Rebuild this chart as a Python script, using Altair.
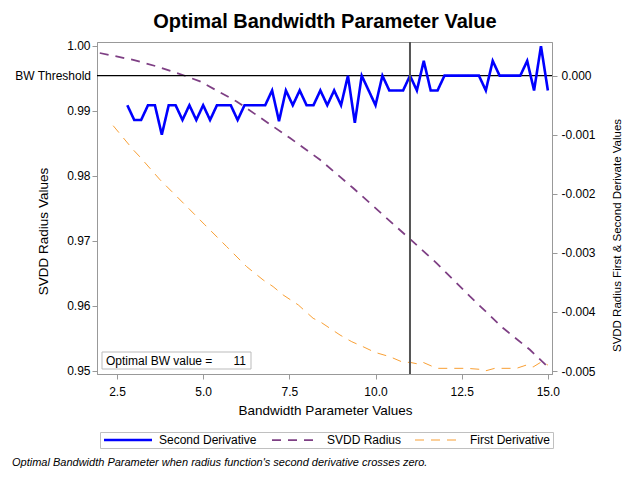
import altair as alt
import pandas as pd

FONT = "Liberation Sans"

# ---- data ----
series_names = ["Second Derivative", "SVDD Radius", "First Derivative"]
series_colors = ["#0000FF", "#7E3F84", "#F7941D"]

# Second derivative (right axis)
sd_x = [2.8, 3.0, 3.2, 3.4, 3.6, 3.8,
        4.0, 4.2, 4.4, 4.6, 4.8, 5.0,
        5.2, 5.4, 5.6, 5.8, 6.0, 6.2,
        6.4, 6.6, 6.8, 7.0, 7.2, 7.4,
        7.6, 7.8, 8.0, 8.2, 8.4, 8.6,
        8.8, 9.0, 9.2, 9.4, 9.6, 9.8,
        10.0, 10.2, 10.4, 10.6, 10.8, 11.0,
        11.2, 11.4, 11.6, 11.8, 12.0, 12.2,
        12.4, 12.6, 12.8, 13.0, 13.2, 13.4,
        13.6, 13.8, 14.0, 14.2, 14.4, 14.6,
        14.8, 15.0]
sd_y = [-0.0005, -0.00075, -0.00075, -0.0005, -0.0005, -0.001,
        -0.0005, -0.0005, -0.00075, -0.0005, -0.00075, -0.0005,
        -0.00075, -0.0005, -0.0005, -0.0005, -0.00075, -0.0005,
        -0.0005, -0.0005, -0.0005, -0.00025, -0.00077, -0.00025,
        -0.0005, -0.00025, -0.0005, -0.0005, -0.00025, -0.0005,
        -0.00025, -0.0005, 0.0, -0.0008, 0.0, -0.00025,
        -0.0005, 0.0, -0.00025, -0.00025, -0.00025, 0.0,
        -0.00025, 0.00025, -0.00025, -0.00025, 0.0, 0.0,
        0.0, 0.0, 0.0, 0.0, -0.00025, 0.00025,
        0.0, 0.0, 0.0, 0.0, 0.00025, -0.00025,
        0.0005, -0.00025]

# First derivative (right axis)
fd_x = [2.39, 2.97, 3.17, 3.75, 4.09, 4.62, 5.05, 5.68, 6.26, 6.74, 7.03, 7.32,
        7.76, 8.19, 8.39, 8.97, 9.31, 9.64, 9.98, 10.42, 10.80, 11.0, 11.24, 11.38,
        11.67, 11.82, 12.64, 13.03, 13.17, 13.46, 14.09, 14.38, 14.57, 14.82, 15.0]
fd_y = [-0.000847, -0.001254, -0.001378, -0.001763, -0.001961, -0.002271, -0.002525,
        -0.002893, -0.003232, -0.003458, -0.003571, -0.003712, -0.003881, -0.004107,
        -0.004164, -0.004390, -0.004503, -0.004588, -0.004683, -0.004758, -0.004853,
        -0.004853, -0.004881, -0.004853, -0.004927, -0.004954, -0.004954, -0.004971,
        -0.005000, -0.004954, -0.004954, -0.004898, -0.004932, -0.004842, -0.004898]

# SVDD radius (left axis)
rad_x = [2.0, 2.97, 3.65, 4.47, 4.91, 5.97, 7.52, 8.39, 9.35, 10.32, 11.0, 11.77,
         12.74, 13.70, 14.48, 14.99]
rad_y = [0.99888, 0.99782, 0.99682, 0.99538, 0.99451, 0.99143, 0.98580, 0.98246,
         0.97811, 0.97349, 0.97026, 0.96657, 0.96143, 0.95657, 0.95323, 0.95066]

optimal_bw = 11
threshold = 0.0

x_ticks = [2.5, 5.0, 7.5, 10.0, 12.5, 15.0]
left_ticks = [0.95, 0.96, 0.97, 0.98, 0.99, 1.00]
right_ticks = [-0.005, -0.004, -0.003, -0.002, -0.001, 0.0]

title_text = "Optimal Bandwidth Parameter Value"
footnote = "Optimal Bandwidth Parameter when radius function's second derivative crosses zero."

# ---- tables ----
df_rad = pd.DataFrame({"x": rad_x, "y": rad_y, "series": "SVDD Radius"})
df_der = pd.concat([
    pd.DataFrame({"x": sd_x, "y": sd_y, "series": "Second Derivative"}),
    pd.DataFrame({"x": fd_x, "y": fd_y, "series": "First Derivative"}),
], ignore_index=True)
df_opt = pd.DataFrame({"x": [optimal_bw], "label": ["Optimal BW value ="]})
df_thr = pd.DataFrame({"v": [threshold], "label": ["BW Threshold"]})
df_note = pd.DataFrame({"note": [footnote], "title": [title_text]})

W, H = 455, 332
xscale = alt.Scale(domain=[1.92, 15.12], nice=False, zero=False)
lscale = alt.Scale(domain=[0.9495, 1.00057], nice=False, zero=False)
rscale = alt.Scale(domain=[-0.00505, 0.00057], nice=False, zero=False)

enc_series = dict(
    color=alt.Color("series:N", scale=alt.Scale(domain=series_names, range=series_colors),
                    legend=alt.Legend(title=None)),
    strokeDash=alt.StrokeDash("series:N", scale=alt.Scale(domain=series_names,
                              range=[[1, 0], [9, 7], [9, 7]]), legend=alt.Legend(title=None)),
    strokeWidth=alt.StrokeWidth("series:N", scale=alt.Scale(domain=series_names,
                                range=[2.6, 0.9, 0.9]), legend=alt.Legend(title=None)),
)

x_axis = alt.Axis(values=x_ticks, format=".1f", title="Bandwidth Parameter Values",
                  tickSize=5, labelPadding=7, titleX=228, titleY=36,
                  titleBaseline="middle", titleAlign="center")
l_axis = alt.Axis(orient="left", values=left_ticks, format=".2f",
                  title="SVDD Radius Values", tickSize=5, labelPadding=2,
                  titleX=-54, titleY=189, titleAngle=270,
                  titleAlign="center", titleBaseline="middle")
r_axis = alt.Axis(orient="right", values=right_ticks, format=".3f",
                  labelExpr="replace(datum.label, '\u2212', '-')",
                  title="SVDD Radius First & Second Derivate Values",
                  tickSize=5, labelPadding=4, titleFontSize=11.5,
                  titleX=65, titleY=193, titleAngle=270,
                  titleAlign="center", titleBaseline="middle")

X = alt.X("x:Q", scale=xscale, axis=x_axis)

radius = alt.Chart(df_rad).mark_line().encode(
    x=X,
    y=alt.Y("y:Q", scale=lscale, axis=l_axis),
    order=alt.Order("x:Q"),
    **enc_series,
)

deriv = alt.Chart(df_der).mark_line().encode(
    x=X,
    y=alt.Y("y:Q", scale=rscale, axis=r_axis),
    order=alt.Order("x:Q"),
    **enc_series,
)
thr_rule = alt.Chart(df_thr).mark_rule(color="black", strokeWidth=1.2).encode(
    y=alt.Y("v:Q", scale=rscale, axis=r_axis))
thr_text = alt.Chart(df_thr).mark_text(align="right", baseline="middle", fontSize=12,
                                       font=FONT, color="black").encode(
    x=alt.value(-6), y=alt.Y("v:Q", scale=rscale, axis=r_axis), text="label:N")

right_layer = alt.layer(thr_rule, thr_text, deriv)

vline = alt.Chart(df_opt).mark_rule(color="#555555", strokeWidth=2).encode(x=X)

box = alt.Chart(df_opt).mark_rect(fill="white", stroke="#BBBBBB", strokeWidth=1).encode(
    x=alt.value(5), x2=alt.value(154), y=alt.value(310), y2=alt.value(327))
box_label = alt.Chart(df_opt).mark_text(align="left", baseline="middle", fontSize=12,
                                        font=FONT, color="black").encode(
    x=alt.value(9), y=alt.value(319), text="label:N")
box_value = alt.Chart(df_opt).mark_text(align="right", baseline="middle", fontSize=12,
                                        font=FONT, color="black").encode(
    x=alt.value(149), y=alt.value(319), text=alt.Text("x:Q", format="d"))

note = alt.Chart(df_note).mark_text(align="left", baseline="middle", fontSize=11,
                                    font=FONT, fontStyle="italic", color="black").encode(
    x=alt.value(-85), y=alt.value(421), text="note:N")
title = alt.Chart(df_note).mark_text(align="center", baseline="alphabetic", fontSize=20,
                                     font=FONT, fontWeight="bold", color="black").encode(
    x=alt.value(228), y=alt.value(-14), text="title:N")

chart = alt.layer(
    radius, right_layer, vline, box, box_label, box_value, note, title
).resolve_scale(y="independent").properties(
    width=W, height=H,
    autosize=alt.AutoSizeParams(type="none"),
    padding={"left": 89, "top": 34, "right": 80, "bottom": 94},
).configure_view(
    stroke="#999999", strokeWidth=1
).configure_axis(
    grid=False, domainColor="#999999", tickColor="#999999",
    labelFont=FONT, labelFontSize=12, labelColor="black",
    titleFont=FONT, titleFontSize=13.5, titleFontWeight="normal", titleColor="black",
).configure_legend(
    orient="none", legendX=3, legendY=390, direction="horizontal",
    strokeColor="#C0C0C0", fillColor="white", padding=2,
    symbolType="M-8,0H8", symbolSize=36, symbolOffset=20, labelOffset=25,
    columnPadding=11, labelFont=FONT, labelFontSize=12, labelColor="black",
    symbolStrokeWidth=1.0,
)

chart.save("out.html", embed_options={"renderer": "svg", "actions": False})
